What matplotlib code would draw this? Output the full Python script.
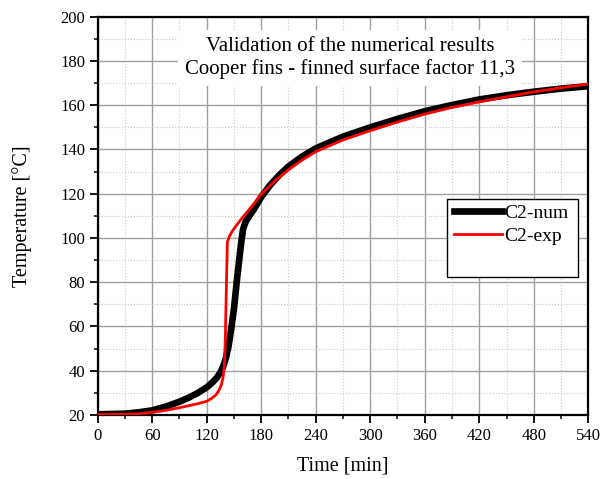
import numpy as np
import matplotlib.pyplot as plt
from matplotlib.ticker import MultipleLocator
from matplotlib.patches import Rectangle

plt.rcParams['font.family'] = ['Liberation Serif', 'DejaVu Serif']

# numerical results (C2-num)
t_num = [0, 30, 45, 60, 75, 90, 100, 110, 120, 126, 131, 135, 138, 141, 144,
         147, 150, 153, 156, 158, 160, 163, 167, 172, 180, 190, 200, 210, 225,
         240, 270, 300, 330, 360, 390, 420, 450, 480, 510, 540]
T_num = [20.3, 20.6, 21.2, 22.1, 23.8, 26.0, 27.8, 29.9, 32.5, 34.6, 36.8, 39.2,
         41.8, 45.5, 51.0, 59.0, 68.0, 80.0, 91.0, 98.0, 104.0, 107.5, 110.0,
         113.0, 118.5, 124.0, 128.5, 132.3, 136.8, 140.5, 145.8, 150.0, 153.8,
         157.3, 160.1, 162.6, 164.5, 166.1, 167.5, 168.6]

# experimental results (C2-exp)
t_exp = [0, 30, 45, 60, 75, 90, 100, 110, 120, 125, 130, 133, 136, 138, 139.5,
         140.5, 141.5, 142.7, 145, 148, 152, 157, 163, 170, 180, 195, 210, 225,
         240, 270, 300, 330, 360, 390, 420, 450, 480, 510, 540]
T_exp = [20.2, 20.3, 20.6, 21.2, 22.1, 23.3, 24.2, 25.1, 26.2, 27.4, 29.0, 30.8,
         33.5, 37.0, 42.6, 55.0, 75.0, 98.0, 100.8, 103.0, 105.3, 108.0, 111.0,
         114.5, 119.8, 125.8, 130.8, 135.2, 139.0, 144.3, 148.5, 152.4, 156.0,
         159.0, 161.5, 163.8, 166.0, 167.9, 169.6]

fig = plt.figure(figsize=(6.03, 4.79), dpi=100)
ax = fig.add_axes([0.162, 0.1336, 0.8136, 0.8315])

ax.plot(t_num, T_num, color="black", lw=4.8, label="C2-num", zorder=3)
ax.plot(t_exp, T_exp, color="red", lw=2, label="C2-exp", zorder=4)

ax.set_xlim(0, 540)
ax.set_ylim(20, 200)
ax.xaxis.set_major_locator(MultipleLocator(60))
ax.xaxis.set_minor_locator(MultipleLocator(30))
ax.yaxis.set_major_locator(MultipleLocator(20))
ax.yaxis.set_minor_locator(MultipleLocator(10))

ax.grid(which="major", color="#a0a0a0", lw=1.0, ls="-", zorder=0)
ax.grid(which="minor", color="#c8c8c8", lw=0.8, ls=":", zorder=0)
ax.set_axisbelow(True)

for s in ax.spines.values():
    s.set_linewidth(1.6)
ax.tick_params(which="major", direction="out", length=6, width=1.3,
               labelsize=12, pad=3, top=False, right=False)
ax.tick_params(which="minor", direction="out", length=3, width=1.1,
               top=False, right=False)

ax.set_xlabel("Time [min]", fontsize=14.5, labelpad=9)
ax.set_ylabel("Temperature [°C]", fontsize=14.5, labelpad=20)

ax.text(0.514, 0.897, "Validation of the numerical results\nCooper fins - finned surface factor 11,3",
        transform=ax.transAxes, ha="center", va="center", fontsize=15,
        linespacing=1.2, zorder=5,
        bbox=dict(facecolor="white", edgecolor="none", pad=5))

# legend box with empty space below the entries
ax.add_patch(Rectangle((0.713, 0.346), 0.267, 0.197, transform=ax.transAxes,
                       facecolor="white", edgecolor="black", lw=1.0, zorder=5))
leg = ax.legend(loc="upper left", bbox_to_anchor=(0.71, 0.548), fontsize=14,
                frameon=False, handlelength=2.5, handletextpad=0.1,
                labelspacing=0.25, borderaxespad=0)
leg.set_zorder(6)

fig.savefig("out.png", dpi=100)
